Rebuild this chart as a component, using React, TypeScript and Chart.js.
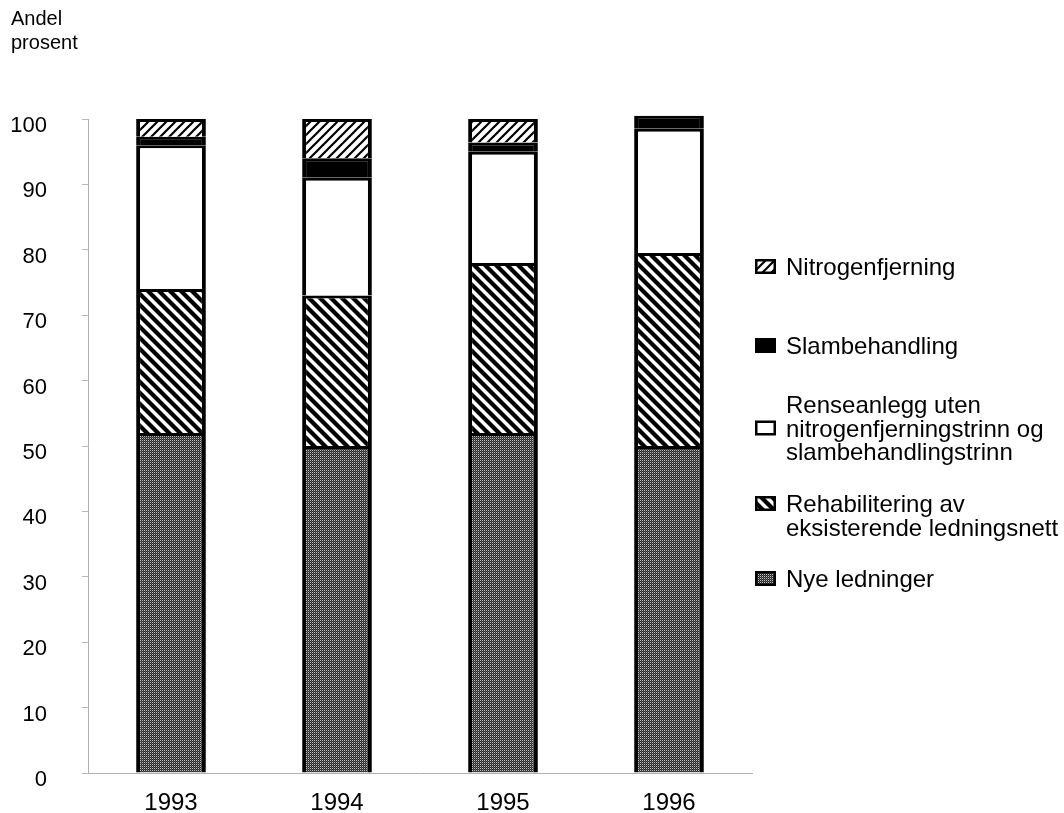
import React, { useEffect, useRef } from "react";
import { Chart, registerables } from "chart.js";

Chart.register(...registerables);

// ---------- data ----------
const categories = ["1993", "1994", "1995", "1996"];
const nyeLedninger = [52, 50, 52, 50];
const rehabilitering = [22, 23, 26, 29.5];
const renseanlegg = [22, 18, 17, 19];
const slambehandling = [1.3, 3, 1.4, 2];
const nitrogenfjerning = [2.7, 6, 3.6, 0];

const yMin = 0;
const yMax = 100;
const yStep = 10;

const axisTitle = ["Andel", "prosent"];

const labelNye = ["Nye ledninger"];
const labelRehab = ["Rehabilitering av", "eksisterende ledningsnett"];
const labelRense = ["Renseanlegg uten", "nitrogenfjerningstrinn og", "slambehandlingstrinn"];
const labelSlam = ["Slambehandling"];
const labelNitro = ["Nitrogenfjerning"];

// ---------- patterns ----------
function hatch(size: number, lw: number, forward: boolean): CanvasPattern | string {
  const c = document.createElement("canvas");
  c.width = size;
  c.height = size;
  const g = c.getContext("2d");
  if (!g) return "#fff";
  g.fillStyle = "#fff";
  g.fillRect(0, 0, size, size);
  g.strokeStyle = "#000";
  g.lineWidth = lw;
  g.lineCap = "square";
  for (const off of [-size, 0, size]) {
    g.beginPath();
    if (forward) {
      g.moveTo(off, size);
      g.lineTo(off + size, 0);
    } else {
      g.moveTo(off, 0);
      g.lineTo(off + size, size);
    }
    g.stroke();
  }
  const p = g.createPattern(c, "repeat");
  return p || "#fff";
}

function dots(): CanvasPattern | string {
  const c = document.createElement("canvas");
  c.width = 2;
  c.height = 2;
  const g = c.getContext("2d");
  if (!g) return "#555";
  g.fillStyle = "#2a2a2a";
  g.fillRect(0, 0, 2, 2);
  g.fillStyle = "#c0c0c0";
  g.fillRect(0, 0, 1, 1);
  g.fillStyle = "#555555";
  g.fillRect(1, 1, 1, 1);
  const p = g.createPattern(c, "repeat");
  return p || "#555";
}

const FONT = "'Liberation Sans', Arial, Helvetica, sans-serif";

// legend layout (which dataset, baseline of first line, line the icon sits on)
const legendLayout = [
  { ds: 4, baseline: 275, iconLine: 0 },
  { ds: 3, baseline: 354, iconLine: 0 },
  { ds: 2, baseline: 413, iconLine: 1 },
  { ds: 1, baseline: 512, iconLine: 0 },
  { ds: 0, baseline: 587, iconLine: 0 },
];
const legendLineHeight = 23.5;

const overlayPlugin = {
  id: "overlay",
  afterDraw(chart: any) {
    const ctx: CanvasRenderingContext2D = chart.ctx;
    ctx.save();
    ctx.fillStyle = "#000";
    ctx.textAlign = "left";
    ctx.textBaseline = "alphabetic";
    ctx.font = `20px ${FONT}`;
    ctx.fillText(axisTitle[0], 11, 25);
    ctx.fillText(axisTitle[1], 11, 49);

    ctx.font = `24px ${FONT}`;
    const iconX = chart.chartArea.right + 3;
    const textX = iconX + 31;
    legendLayout.forEach((item) => {
      const ds = chart.data.datasets[item.ds];
      const lines: string[] = ds.legendLines;
      lines.forEach((t, i) => {
        ctx.fillStyle = "#000";
        ctx.fillText(t, textX, item.baseline + i * legendLineHeight);
      });
      const ib = item.baseline + item.iconLine * legendLineHeight;
      ctx.fillStyle = ds.backgroundColor;
      ctx.fillRect(iconX, ib - 16, 21, 15);
      ctx.strokeStyle = "#000";
      ctx.lineWidth = 2.5;
      ctx.strokeRect(iconX + 1.25, ib - 14.75, 18.5, 12.5);
    });
    ctx.restore();
  },
};

export default function App() {
  const ref = useRef<HTMLCanvasElement | null>(null);

  useEffect(() => {
    if (!ref.current) return;
    const border = { top: 3, left: 4, right: 4, bottom: 0 };
    const common = {
      borderColor: "#000",
      borderWidth: border,
      borderSkipped: "start",
      categoryPercentage: 1,
      barPercentage: 0.42,
      clip: false,
    };
    const chart = new Chart(ref.current, {
      type: "bar",
      data: {
        labels: categories,
        datasets: [
          { label: labelNye.join(" "), legendLines: labelNye, data: nyeLedninger, backgroundColor: dots(), ...common },
          { label: labelRehab.join(" "), legendLines: labelRehab, data: rehabilitering, backgroundColor: hatch(11, 4.2, false), ...common },
          { label: labelRense.join(" "), legendLines: labelRense, data: renseanlegg, backgroundColor: "#ffffff", ...common },
          { label: labelSlam.join(" "), legendLines: labelSlam, data: slambehandling, backgroundColor: "#000000", ...common },
          { label: labelNitro.join(" "), legendLines: labelNitro, data: nitrogenfjerning, backgroundColor: hatch(9, 2.2, true), ...common },
        ] as any,
      },
      options: {
        responsive: false,
        animation: false,
        devicePixelRatio: 1,
        layout: { padding: { left: 0, top: 119, right: 312, bottom: 0 } },
        plugins: {
          legend: { display: false },
          title: { display: false },
          tooltip: { enabled: false },
        },
        scales: {
          x: {
            stacked: true,
            afterFit: (s: any) => {
              s.height = 40;
            },
            grid: { display: true, drawOnChartArea: false, drawTicks: false },
            border: { display: true, color: "#b0b0b0", dash: [3, 3], width: 1 },
            ticks: {
              color: "#000",
              font: { family: FONT, size: 24 },
              padding: 16,
              maxRotation: 0,
              autoSkip: false,
            },
          },
          y: {
            stacked: true,
            min: yMin,
            max: yMax,
            afterFit: (s: any) => {
              s.width = 88;
              s.paddingTop = 0;
              s.paddingBottom = 0;
            },
            grid: { drawOnChartArea: false, drawTicks: true, tickLength: 6, color: "#b8b8b8" },
            border: { display: true, color: "#b0b0b0", dash: [2, 3], width: 1 },
            ticks: {
              stepSize: yStep,
              color: "#000",
              font: { family: FONT, size: 22 },
              padding: 35,
              labelOffset: 7,
            },
          },
        },
      } as any,
      plugins: [overlayPlugin],
    });
    return () => chart.destroy();
  }, []);

  return (
    <div style={{ position: "fixed", left: 0, top: 0, width: 1064, height: 813, background: "#fff" }}>
      <canvas ref={ref} width={1064} height={813} style={{ display: "block", width: 1064, height: 813 }} />
    </div>
  );
}
